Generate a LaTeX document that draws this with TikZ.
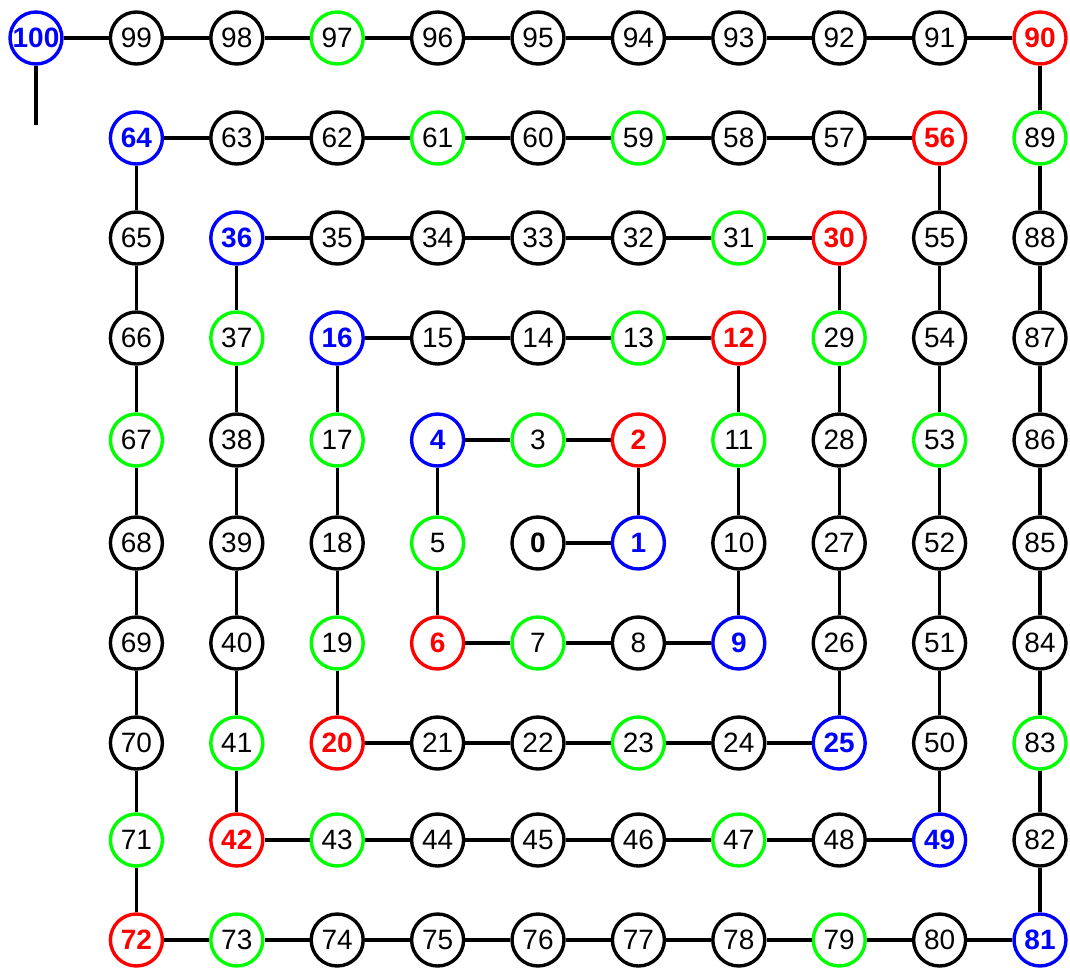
\documentclass[tikz,border=0pt]{standalone}
\usepackage{fontspec}
\setmainfont{Liberation Sans}
\usepackage{tikz}
\definecolor{sqblue}{RGB}{0,0,255}
\definecolor{prored}{RGB}{255,0,0}
\definecolor{primegreen}{RGB}{0,255,0}
\tikzset{
  num/.style={circle, draw, line width=3.4pt, minimum size=52pt, inner sep=0pt, font=\fontsize{28}{28}\selectfont},
  pl/.style={num},
  zero/.style={num, font=\fontsize{28}{28}\selectfont\bfseries},
  sq/.style={num, draw=sqblue, text=sqblue, font=\fontsize{28}{28}\selectfont\bfseries},
  pro/.style={num, draw=prored, text=prored, font=\fontsize{28}{28}\selectfont\bfseries},
  pri/.style={num, draw=primegreen},
  edge/.style={line width=3.2pt}
}
\def\rowy{{38,138,238,338,440,543,643,743,840,940}}

\begin{document}
\begin{tikzpicture}[x=1pt, y=-1pt]
  \useasboundingbox (0,0) rectangle (1070,974);
  % spiral: number / column / row / kind
  \foreach \n/\c/\r/\s in {0/5/5/zero, 1/6/5/sq, 2/6/4/pro, 3/5/4/pri, 4/4/4/sq, 5/4/5/pri, 6/4/6/pro,
    7/5/6/pri, 8/6/6/pl, 9/7/6/sq, 10/7/5/pl, 11/7/4/pri, 12/7/3/pro, 13/6/3/pri, 14/5/3/pl,
    15/4/3/pl, 16/3/3/sq, 17/3/4/pri, 18/3/5/pl, 19/3/6/pri, 20/3/7/pro, 21/4/7/pl, 22/5/7/pl,
    23/6/7/pri, 24/7/7/pl, 25/8/7/sq, 26/8/6/pl, 27/8/5/pl, 28/8/4/pl, 29/8/3/pri, 30/8/2/pro,
    31/7/2/pri, 32/6/2/pl, 33/5/2/pl, 34/4/2/pl, 35/3/2/pl, 36/2/2/sq, 37/2/3/pri, 38/2/4/pl,
    39/2/5/pl, 40/2/6/pl, 41/2/7/pri, 42/2/8/pro, 43/3/8/pri, 44/4/8/pl, 45/5/8/pl, 46/6/8/pl,
    47/7/8/pri, 48/8/8/pl, 49/9/8/sq, 50/9/7/pl, 51/9/6/pl, 52/9/5/pl, 53/9/4/pri, 54/9/3/pl,
    55/9/2/pl, 56/9/1/pro, 57/8/1/pl, 58/7/1/pl, 59/6/1/pri, 60/5/1/pl, 61/4/1/pri, 62/3/1/pl,
    63/2/1/pl, 64/1/1/sq, 65/1/2/pl, 66/1/3/pl, 67/1/4/pri, 68/1/5/pl, 69/1/6/pl, 70/1/7/pl,
    71/1/8/pri, 72/1/9/pro, 73/2/9/pri, 74/3/9/pl, 75/4/9/pl, 76/5/9/pl, 77/6/9/pl, 78/7/9/pl,
    79/8/9/pri, 80/9/9/pl, 81/10/9/sq, 82/10/8/pl, 83/10/7/pri, 84/10/6/pl, 85/10/5/pl,
    86/10/4/pl, 87/10/3/pl, 88/10/2/pl, 89/10/1/pri, 90/10/0/pro, 91/9/0/pl, 92/8/0/pl,
    93/7/0/pl, 94/6/0/pl, 95/5/0/pl, 96/4/0/pl, 97/3/0/pri, 98/2/0/pl, 99/1/0/pl, 100/0/0/sq}
    \node[\s] (n\n) at ({36+100.4*\c},{\rowy[\r]}) {\n};
  % links between consecutive numbers
  \foreach \i [evaluate=\i as \j using int(\i+1)] in {0,...,99}
    \draw[edge] (n\i) -- (n\j);
  \coordinate (tail) at (36,125);
  \draw[edge] (n100) -- (tail);
\end{tikzpicture}
\end{document}
